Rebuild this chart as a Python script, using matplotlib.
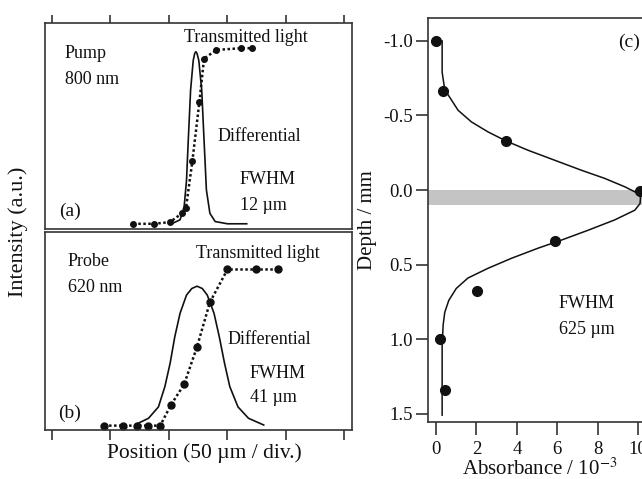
import numpy as np
import matplotlib
matplotlib.use('Agg')
import matplotlib.pyplot as plt

plt.rcParams['font.family'] = ['Liberation Serif', 'DejaVu Serif']
plt.rcParams['mathtext.fontset'] = 'stix'

# panel (a): pump 800 nm, positions in divisions (50 um / div.)
pump_pos = [1.39, 1.75, 2.02, 2.22, 2.29, 2.40, 2.52, 2.60, 2.81, 3.23, 3.42]
pump_trans = [0.0, 0.0, 0.01, 0.06, 0.09, 0.36, 0.70, 0.95, 1.0, 1.01, 1.01]
pump_diff_pos = [2.00, 2.07, 2.19, 2.26, 2.30, 2.33, 2.37, 2.415, 2.44, 2.46,
                 2.48, 2.51, 2.56, 2.60, 2.64, 2.70, 2.79, 3.00, 3.33]
pump_diff = [0.0, 0.004, 0.023, 0.10, 0.25, 0.48, 0.77, 0.94, 0.98, 0.99,
             0.98, 0.94, 0.77, 0.48, 0.195, 0.06, 0.013, 0.0, 0.0]

# panel (b): probe 620 nm
probe_pos = [0.89, 1.21, 1.45, 1.64, 1.85, 2.03, 2.26, 2.48, 2.70, 3.0, 3.49, 3.87]
probe_trans = [0.0, 0.0, 0.0, 0.0, 0.0, 0.13, 0.265, 0.505, 0.79, 1.0, 1.0, 1.0]
probe_diff_pos = [1.45, 1.65, 1.82, 1.93, 2.02, 2.10, 2.19, 2.30, 2.39, 2.48,
                  2.57, 2.655, 2.77, 2.86, 2.95, 3.04, 3.18, 3.36, 3.62]
probe_diff = [0.011, 0.047, 0.12, 0.25, 0.40, 0.57, 0.72, 0.836, 0.878, 0.893,
              0.878, 0.836, 0.72, 0.57, 0.40, 0.25, 0.12, 0.047, 0.004]

# panel (c): absorbance depth profile
abs_pts = [0.02, 0.35, 3.45, 10.1, 5.87, 2.03, 0.21, 0.43]
depth_pts = [-1.0, -0.663, -0.33, 0.005, 0.342, 0.675, 1.0, 1.34]
abs_curve = [0.30, 0.30, 0.40, 0.59, 1.09, 1.75, 2.57, 3.45, 4.55, 5.87, 7.19,
             8.35, 9.34, 10.0, 10.12, 10.1, 9.84, 8.85, 7.52, 6.2, 5.05, 3.73,
             2.57, 1.58, 1.0, 0.63, 0.43, 0.35, 0.30, 0.30]
depth_curve = [-1.0, -0.79, -0.70, -0.64, -0.535, -0.457, -0.39, -0.33, -0.267,
               -0.20, -0.133, -0.078, -0.022, 0.023, 0.05, 0.09, 0.135, 0.20,
               0.27, 0.336, 0.39, 0.458, 0.525, 0.59, 0.66, 0.74, 0.82, 0.905,
               1.04, 1.51]

W, H = 642, 479
fig = plt.figure(figsize=(W / 100, H / 100), dpi=100)
ink = '#111111'
frame = '#333333'
dots = (0, (1, 1))


def box(l, t, r, b):
    return [l / W, 1 - b / H, (r - l) / W, (b - t) / H]


def label(x, y, s, size=13, ha='left', **kw):
    fig.text(x / W, 1 - y / H, s, fontsize=size, ha=ha, va='center', color=ink, **kw)


ax_a = fig.add_axes(box(45, 23, 352, 229))
ax_b = fig.add_axes(box(45, 232, 352, 430))
ax_c = fig.add_axes(box(428, 18, 652, 422))

for ax in (ax_a, ax_b, ax_c):
    for sp in ax.spines.values():
        sp.set_color(frame)
        sp.set_linewidth(1.2)

ax_a.plot(pump_diff_pos, pump_diff, '-', color=ink, lw=1.2)
ax_a.plot(pump_pos, pump_trans, linestyle=dots, color=ink, lw=1.8, marker='o', ms=4)
ax_a.set_xlim(-0.12, 5.13)
ax_a.set_ylim(-0.03, 1.155)
ax_a.set_xticks(range(6))
ax_a.set_yticks([])
ax_a.tick_params(axis='x', bottom=False, top=True, labelbottom=False,
                 direction='out', length=6, width=1.2, color=frame)

ax_b.plot(probe_diff_pos, probe_diff, '-', color=ink, lw=1.2)
ax_b.plot(probe_pos, probe_trans, linestyle=dots, color=ink, lw=1.8, marker='o', ms=5)
ax_b.set_xlim(-0.12, 5.13)
ax_b.set_ylim(-0.028, 1.24)
ax_b.set_xticks(range(6))
ax_b.set_yticks([])
ax_b.tick_params(axis='x', bottom=True, labelbottom=False,
                 direction='out', length=7, width=1.2, color=frame)

ax_c.axhspan(0.0, 0.1, color='#c4c4c4', lw=0)
ax_c.plot(abs_curve, depth_curve, '-', color=ink, lw=1.1)
ax_c.plot(abs_pts, depth_pts, 'o', color=ink, ms=7)
ax_c.set_xlim(-0.4, 10.69)
ax_c.set_ylim(1.556, -1.154)
ax_c.set_xticks(range(0, 11, 2))
ax_c.set_yticks([-1.0, -0.5, 0.0, 0.5, 1.0, 1.5])
ax_c.set_yticklabels(['-1.0', '-0.5', '0.0', '0.5', '1.0', '1.5'])
ax_c.tick_params(direction='out', length=9, width=1.2, color=frame,
                 labelsize=13.5, labelcolor=ink, pad=2)
ax_c.tick_params(axis='x', pad=5)
ax_c.spines['right'].set_visible(False)
ax_c.set_xlabel(r'Absorbance / 10$^{-3}$', fontsize=15, color=ink, labelpad=0)
ax_c.set_ylabel('Depth / mm', fontsize=15, color=ink, labelpad=4)

# annotations
label(65, 54, 'Pump')
label(65, 80, '800 nm')
label(184, 38, 'Transmitted light')
label(218, 137, 'Differential')
label(240, 180, 'FWHM')
label(240, 205, '12 µm')
label(59, 211, '(a)', size=14)

label(68, 262, 'Probe')
label(68, 288, '620 nm')
label(196, 254, 'Transmitted light')
label(228, 340, 'Differential')
label(250, 373, 'FWHM')
label(250, 398, '41 µm')
label(58, 413, '(b)', size=14)

label(204, 453, 'Position (50 µm / div.)', size=15.5, ha='center')
label(18, 232, 'Intensity (a.u.)', size=16, ha='center', rotation=90)

label(618, 42, '(c)', size=14)
label(587, 303, 'FWHM', ha='center')
label(587, 329, '625 µm', ha='center')

fig.savefig('out.png', dpi=100)
